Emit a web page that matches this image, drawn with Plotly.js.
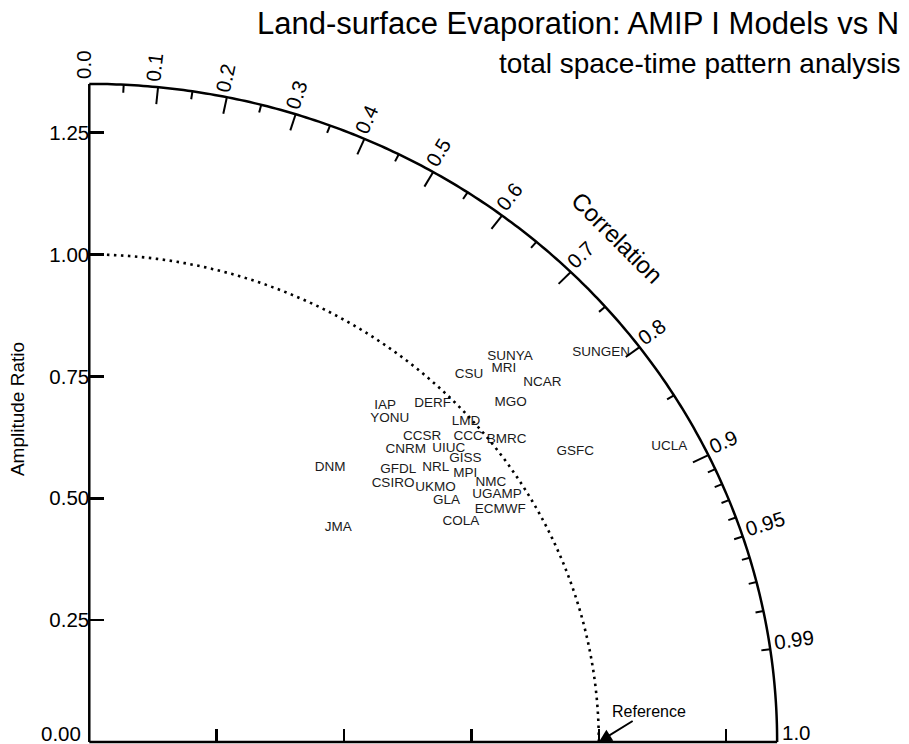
<!DOCTYPE html>
<html><head><meta charset="utf-8">
<script src="https://cdn.plot.ly/plotly-3.0.1.min.js"></script>
<style>html,body{margin:0;padding:0;background:#fff;}#chart{width:909px;height:744px;}</style>
</head><body><div id="chart"></div>
<script>
// ---- data ----
const models = ['SUNYA','MRI','NCAR','CSU','MGO','IAP','YONU','DERF','LMD','CCSR','CCC','BMRC','CNRM','UIUC','GISS','DNM','GFDL','NRL','MPI','CSIRO','NMC','UKMO','UGAMP','GLA','ECMWF','COLA','JMA','GSFC','UCLA','SUNGEN'];
const correlation = [0.722,0.728,0.770,0.703,0.765,0.644,0.665,0.696,0.747,0.722,0.765,0.797,0.720,0.761,0.786,0.643,0.736,0.770,0.801,0.747,0.829,0.793,0.844,0.817,0.861,0.850,0.744,0.848,0.883,0.783];
const amplitudeRatio = [1.144,1.118,1.155,1.060,1.081,0.902,0.887,0.968,0.990,0.905,0.972,1.028,0.863,0.927,0.939,0.735,0.824,0.883,0.921,0.798,0.951,0.857,0.948,0.858,0.937,0.858,0.657,1.125,1.289,1.283];
const ampTickVals = [0, 0.25, 0.5, 0.75, 1.0, 1.25];
const ampTickText = ['0.00','0.25','0.50','0.75','1.00','1.25'];
const xTickVals = [0.25, 0.5, 0.75, 1.0, 1.25];
const corrLabelVals = [0.0,0.1,0.2,0.3,0.4,0.5,0.6,0.7,0.8,0.9,0.95,0.99,1.0];
const corrLabelText = ['0.0','0.1','0.2','0.3','0.4','0.5','0.6','0.7','0.8','0.9','0.95','0.99','1.0'];
const corrMajorTicks = [0.1,0.2,0.3,0.4,0.5,0.6,0.7,0.8,0.9];
const corrMidTicks = [0.95,0.99];
const corrMinorTicks = [0.05,0.15,0.25,0.35,0.45,0.55,0.65,0.75,0.85,0.91,0.92,0.93,0.94,0.96,0.97,0.98];
const refAmplitude = 1.0;
const outerRadius = 1.35;
const titleText = 'Land-surface Evaporation: AMIP I Models vs N';
const subtitleText = 'total space-time pattern analysis';

// ---- layout geometry ----
const W = 909, H = 744;
const margin = {l: 69, r: 5, t: 74, b: 0};
const xRange = [-0.0398, 1.599];
const yRange = [-0.0041, 1.3703];
const UX = (W - margin.l - margin.r) / (xRange[1] - xRange[0]);
const UY = (H - margin.t - margin.b) / (yRange[1] - yRange[0]);
const FONT = '"Liberation Sans", Arial, Helvetica, sans-serif';
const tickFs = 20.5;

function arcPath(r, n) {
  let s = '';
  for (let i = 0; i <= n; i++) {
    const th = (Math.PI / 2) * i / n;
    s += (i ? ' L ' : 'M ') + (r * Math.cos(th)).toFixed(5) + ',' + (r * Math.sin(th)).toFixed(5);
  }
  return s;
}
function radialDir(c) {
  const th = Math.acos(c);
  const ux = UX * Math.cos(th), uy = UY * Math.sin(th);
  const n = Math.hypot(ux, uy);
  return {th: th, x: ux / n, y: uy / n};
}

const shapes = [];
// axis lines
shapes.push({type:'line', xref:'x', yref:'y', x0:0, y0:0, x1:0, y1:outerRadius, line:{color:'#000', width:2.5}});
shapes.push({type:'line', xref:'x', yref:'y', x0:0, y0:0, x1:outerRadius, y1:0, line:{color:'#000', width:2.5}});
// outer correlation arc
shapes.push({type:'path', xref:'x', yref:'y', path: arcPath(outerRadius, 240), line:{color:'#000', width:2.5}});
// reference amplitude arc
shapes.push({type:'path', xref:'x', yref:'y', path: arcPath(refAmplitude, 200), line:{color:'#000', width:2.6, dash:'2.5px,4.5px'}});
// correlation ticks
function addTicks(list, len) {
  list.forEach(c => {
    const d = radialDir(c);
    const px = outerRadius * Math.cos(d.th), py = outerRadius * Math.sin(d.th);
    shapes.push({type:'line', xref:'x', yref:'y', x0:px, y0:py,
      x1: px - len * d.x / UX, y1: py - len * d.y / UY, line:{color:'#000', width:2}});
  });
}
addTicks(corrMajorTicks, 17);
addTicks(corrMidTicks, 9);
addTicks(corrMinorTicks, 8);

const annotations = [];
corrLabelVals.forEach((c, i) => {
  const d = radialDir(c);
  const txt = corrLabelText[i];
  const nd = txt.replace('.', '').length;
  const w = tickFs * (0.556 * nd + 0.278);
  const along = 5 + w / 2, perp = (c === 1.0) ? 10 : 6;
  annotations.push({
    x: outerRadius * Math.cos(d.th), y: outerRadius * Math.sin(d.th), xref:'x', yref:'y',
    text: txt, showarrow:false, textangle: -Math.atan2(d.y, d.x) * 180 / Math.PI,
    xanchor:'center', yanchor:'middle',
    xshift: d.x * along - d.y * perp, yshift: d.y * along + d.x * perp,
    font:{family:FONT, size:tickFs, color:'#000'}
  });
});
// lowest amplitude tick label, lifted so it stays inside the picture
annotations.push({
  x: ampTickVals[0], y: ampTickVals[0], xref:'x', yref:'y', text: ampTickText[0], showarrow:false,
  xanchor:'right', yanchor:'middle', xshift:-6, yshift:9,
  font:{family:FONT, size:tickFs, color:'#000'}
});
// "Correlation" label
annotations.push({
  x: 1.465 * Math.cos(Math.PI / 4), y: 1.465 * Math.sin(Math.PI / 4), xref:'x', yref:'y',
  text:'Correlation', showarrow:false, textangle:45, xanchor:'center', yanchor:'middle',
  font:{family:FONT, size:24, color:'#000'}
});
// Reference arrow
annotations.push({
  x: refAmplitude, y: 0, xref:'x', yref:'y', text:'Reference', showarrow:true,
  ax: 50, ay: -31, arrowhead:2, arrowsize:1.3, arrowwidth:2, arrowcolor:'#000', standoff:0,
  font:{family:FONT, size:16, color:'#000'}
});
// subtitle
annotations.push({
  xref:'paper', yref:'paper', x: (497 - margin.l) / (W - margin.l - margin.r), y: (H - 64) / (H - margin.t - margin.b),
  xanchor:'left', yanchor:'middle', text: subtitleText, showarrow:false,
  font:{family:FONT, size:28, color:'#000'}
});

const trace = {
  type:'scatter', mode:'text',
  x: models.map((m, i) => amplitudeRatio[i] * correlation[i]),
  y: models.map((m, i) => amplitudeRatio[i] * Math.sqrt(1 - correlation[i] * correlation[i])),
  text: models, textposition:'middle center', cliponaxis:false, hoverinfo:'text',
  textfont:{family:FONT, size:13.5, color:'#1a1a1a'}, showlegend:false
};

const layout = {
  width: W, height: H, margin: margin, paper_bgcolor:'#fff', plot_bgcolor:'#fff', showlegend:false,
  title: {text: titleText, font:{family:FONT, size:31, color:'#000'}, xref:'container', x: 257 / W, xanchor:'left',
          yref:'container', y: 1 - 23 / H, yanchor:'middle'},
  xaxis: {range: xRange, anchor:'free', position: (0 - yRange[0]) / (yRange[1] - yRange[0]),
          showgrid:false, zeroline:false, showline:false, ticks:'inside', ticklen:13, tickwidth:2.5, tickcolor:'#000',
          tickmode:'array', tickvals: xTickVals, showticklabels:false, fixedrange:true},
  yaxis: {range: yRange, anchor:'free', position: (0 - xRange[0]) / (xRange[1] - xRange[0]), side:'left',
          showgrid:false, zeroline:false, showline:false, ticks:'inside', ticklen:14, tickwidth:2.5, tickcolor:'#000',
          tickmode:'array', tickvals: ampTickVals.slice(1), ticktext: ampTickText.slice(1),
          tickfont:{family:FONT, size:tickFs, color:'#000'},
          title:{text:'Amplitude Ratio', font:{family:FONT, size:19, color:'#000'}, standoff:18}, fixedrange:true},
  shapes: shapes, annotations: annotations
};
Plotly.newPlot('chart', [trace], layout, {displayModeBar:false, staticPlot:true});
</script></body></html>
